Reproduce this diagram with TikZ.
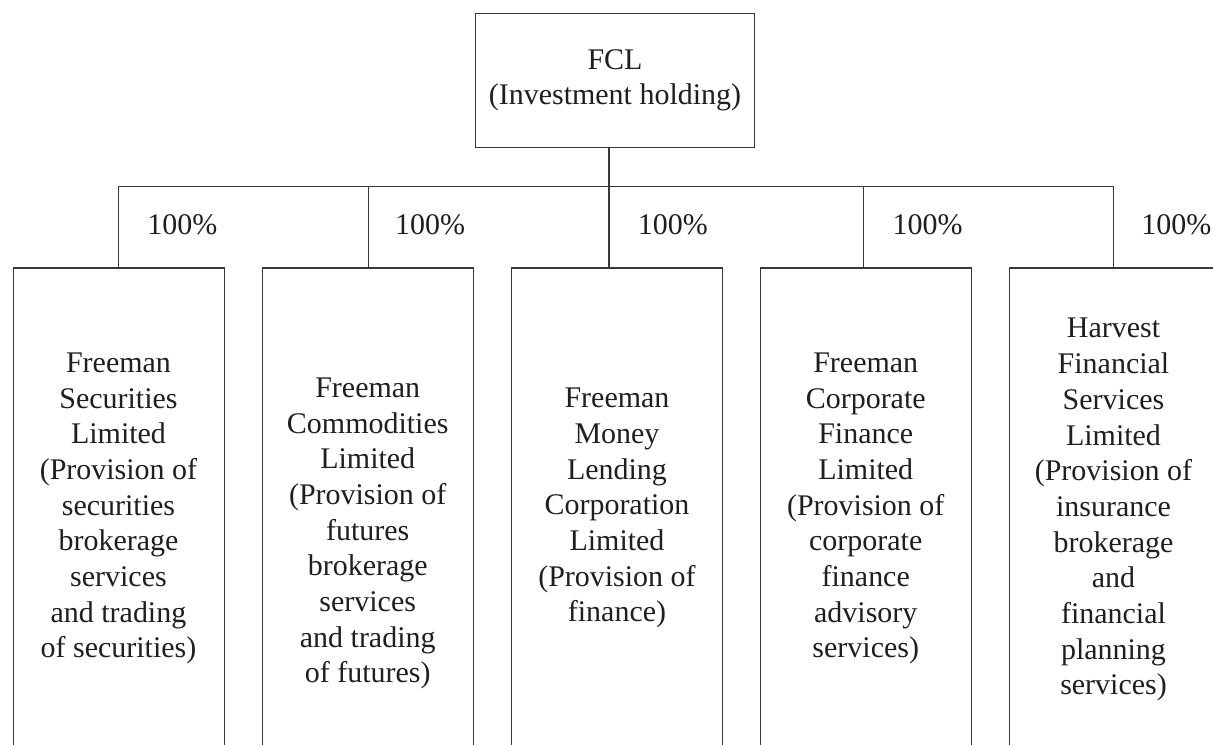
\documentclass[tikz,border=0pt]{standalone}
\usepackage{fontspec}
\setmainfont{Liberation Serif}
\begin{document}
\begin{tikzpicture}[x=0.75pt,y=-0.75pt,
  every path/.style={line width=0.9pt, draw=black!78},
  topbox/.style={draw=black!78, line width=0.9pt, minimum width=210pt, minimum height=100.5pt, inner sep=0pt, align=center, text=black!88, font=\fontsize{22.5}{26.3}\selectfont},
  subbox/.style={draw=black!78, line width=0.9pt, minimum width=158.25pt, minimum height=400pt, anchor=north, inner sep=0pt},
  txt/.style={align=center, anchor=base, inner sep=0pt, text=black!88, font=\fontsize{22.5}{26.8}\selectfont},
  pct/.style={anchor=base, inner sep=0pt, text=black!88, font=\fontsize{22.5}{26.8}\selectfont}]
\useasboundingbox (0,0) rectangle (1213,744);
\fill[white] (0,0) rectangle (1213,744);

\node[topbox] (fcl) at (615,80) {FCL\\(Investment holding)};

\coordinate (b1) at (118,186);
\coordinate (b2) at (368,186);
\coordinate (b3) at (609,186);
\coordinate (b4) at (864,186);
\coordinate (b5) at (1114,186);

\node[subbox] (s1) at (118.5,267) {};
\node[subbox] (s2) at (367.5,267) {};
\node[subbox] (s3) at (617,267) {};
\node[subbox] (s4) at (866,267) {};
\node[subbox] (s5) at (1115.5,267) {};

\draw (fcl.south -| b3) -- (b3);
\draw (b1) -- (b5);
\draw (b1) -- (b1 |- s1.north);
\draw (b2) -- (b2 |- s2.north);
\draw (b3) -- (b3 |- s3.north);
\draw (b4) -- (b4 |- s4.north);
\draw (b5) -- (b5 |- s5.north);

\node[pct] (p1) at (182,234) {100\%};
\node[pct] (p2) at (430,234) {100\%};
\node[pct] (p3) at (673,234) {100\%};
\node[pct] (p4) at (928,234) {100\%};
\node[pct] (p5) at (1177,234) {100\%};

\node[txt] (t1) at (118,658) {Freeman\\Securities\\Limited\\(Provision of\\securities\\brokerage\\services\\and trading\\of securities)};
\node[txt] (t2) at (367.5,683) {Freeman\\Commodities\\Limited\\(Provision of\\futures\\brokerage\\services\\and trading\\of futures)};
\node[txt] (t3) at (617,622) {Freeman\\Money\\Lending\\Corporation\\Limited\\(Provision of\\finance)};
\node[txt] (t4) at (866,658) {Freeman\\Corporate\\Finance\\Limited\\(Provision of\\corporate\\finance\\advisory\\services)};
\node[txt] (t5) at (1114,695) {Harvest\\Financial\\Services\\Limited\\(Provision of\\insurance\\brokerage\\and\\financial\\planning\\services)};
\end{tikzpicture}
\end{document}
